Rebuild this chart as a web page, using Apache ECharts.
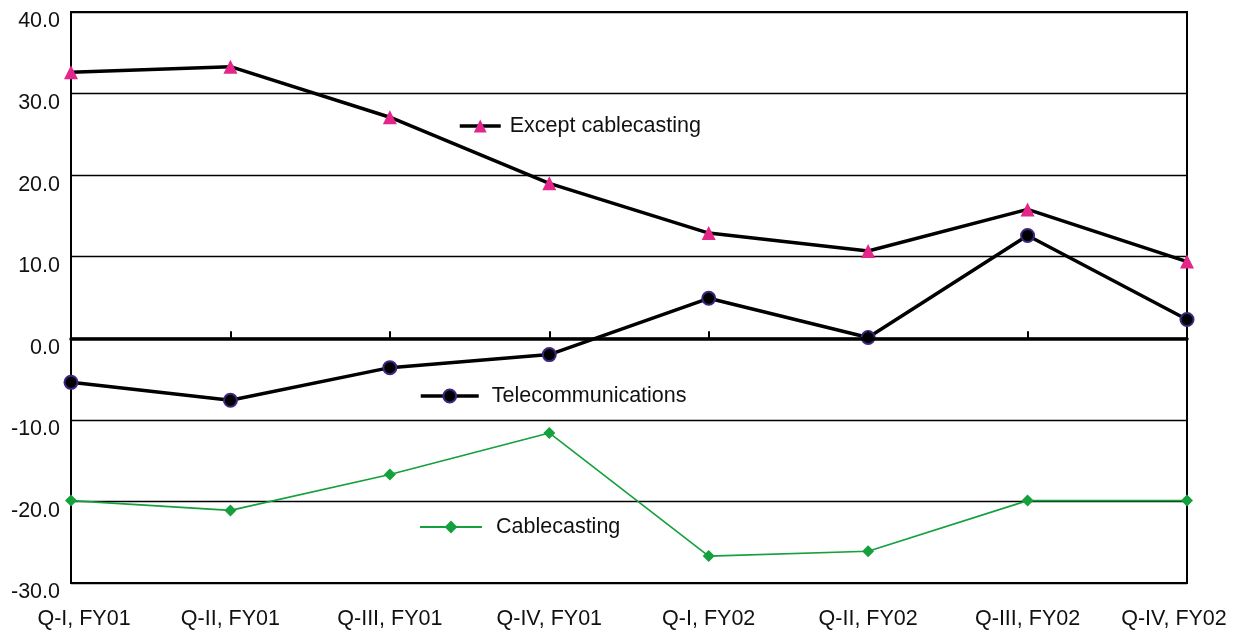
<!DOCTYPE html>
<html>
<head>
<meta charset="utf-8">
<script src="https://cdn.jsdelivr.net/npm/echarts@6/dist/echarts.min.js"></script>
<style>html,body{margin:0;padding:0;background:#fff}#c{width:1239px;height:631px}</style>
</head>
<body>
<div id="c"></div>
<script>
const categories = ['Q-I, FY01','Q-II, FY01','Q-III, FY01','Q-IV, FY01','Q-I, FY02','Q-II, FY02','Q-III, FY02','Q-IV, FY02'];
const exceptCable = [32.6, 33.3, 27.1, 19.0, 12.9, 10.7, 15.8, 9.4];
const telecom = [-5.4, -7.6, -3.6, -2.0, 4.9, 0.1, 12.6, 2.3];
const cablecasting = [-19.9, -21.1, -16.7, -11.6, -26.7, -26.1, -19.9, -19.9];
const yTicks = {min: -30, max: 40, interval: 10};

const FONT = '"Liberation Sans", Arial, sans-serif';
const TXT = {fontFamily: FONT, fontSize: 21.5, color: '#111'};
const chart = echarts.init(document.getElementById('c'));
function leg(name, left, top, w, pad, lw) {
  return {data: [name], left: left, top: top, itemWidth: w, itemHeight: 16, padding: 0,
    lineStyle: {width: lw},
    textStyle: Object.assign({}, TXT, {padding: [0,0,0,pad]})};
}
chart.setOption({
  animation: false,
  backgroundColor: '#fff',
  grid: {left: 71, right: 52, top: 12, bottom: 48, show: true, borderColor: '#000', borderWidth: 2, containLabel: false},
  legend: [
    leg('Except cablecasting', 458, 115, 41, 4, 3.5),
    leg('Telecommunications', 419, 385, 58, 8, 3.5),
    leg('Cablecasting', 419, 516, 62, 9, 2)
  ],
  xAxis: [
    {type: 'category', data: categories, boundaryGap: false,
     axisLine: {onZero: true, lineStyle: {color: '#000', width: 3.5}},
     axisTick: {show: true, inside: true, length: 7, lineStyle: {color: '#000', width: 2}},
     axisLabel: {show: false}, splitLine: {show: false}, z: 5},
    {type: 'category', data: categories, boundaryGap: false, position: 'bottom',
     axisLine: {show: false, onZero: false}, axisTick: {show: false}, splitLine: {show: false},
     axisLabel: Object.assign({show: true, margin: 25, interval: 0,
       formatter: function (v, i) {
         if (i === 0) return '{a|' + v + '}';
         if (i === categories.length - 1) return '{b|' + v + '}';
         return v;
       },
       rich: {
         a: Object.assign({}, TXT, {padding: [0,0,0,26]}),
         b: Object.assign({}, TXT, {padding: [0,26,0,0]})
       }}, TXT)}
  ],
  yAxis: {type: 'value', min: yTicks.min, max: yTicks.max, interval: yTicks.interval,
    axisLine: {show: true, lineStyle: {color: '#000', width: 2}},
    axisTick: {show: false},
    splitLine: {show: true, lineStyle: {color: '#000', width: 1.3}},
    axisLabel: Object.assign({margin: 11,
      formatter: v => '{v|' + v.toFixed(1) + '}',
      rich: {v: Object.assign({}, TXT, {padding: [19,0,0,0]})}}, TXT)},
  series: [
    {name: 'Except cablecasting', type: 'line', data: exceptCable, xAxisIndex: 0,
     symbol: 'triangle', symbolSize: 14, z: 3,
     lineStyle: {color: '#000', width: 3.5},
     itemStyle: {color: '#e4268a', borderWidth: 0}},
    {name: 'Telecommunications', type: 'line', data: telecom, xAxisIndex: 0,
     symbol: 'circle', symbolSize: 13, z: 3,
     lineStyle: {color: '#000', width: 3.5},
     itemStyle: {color: '#000', borderColor: '#3d2580', borderWidth: 2}},
    {name: 'Cablecasting', type: 'line', data: cablecasting, xAxisIndex: 0,
     symbol: 'diamond', symbolSize: 12, z: 3,
     lineStyle: {color: '#13a03d', width: 1.6},
     itemStyle: {color: '#13a03d', borderWidth: 0}}
  ]
});
</script>
</body>
</html>
